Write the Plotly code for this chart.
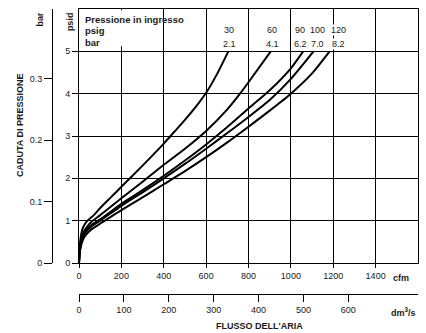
import plotly.graph_objects as go

PSI_TO_BAR = 0.0689476
CFM_PER_DM3S = 2.11888

# inlet pressure of each curve
inlet_psig = ["30", "60", "90", "100", "120"]
inlet_bar = ["2.1", "4.1", "6.2", "7.0", "8.2"]

# air flow (cfm) / pressure drop (psid)
flow_30 = [0, 3, 8, 15, 25, 40, 70, 100, 150, 200, 300, 400, 450, 500, 550, 600, 650, 705]
drop_30 = [0, 0.35, 0.6, 0.78, 0.9, 1.0, 1.13, 1.3, 1.55, 1.8, 2.3, 2.82, 3.1, 3.38, 3.68, 4.02, 4.45, 5.0]

flow_60 = [0, 3, 8, 15, 30, 60, 100, 200, 300, 400, 500, 600, 700, 760, 800, 905]
drop_60 = [0, 0.3, 0.5, 0.65, 0.8, 0.98, 1.13, 1.53, 1.92, 2.32, 2.7, 3.12, 3.63, 4.0, 4.27, 5.0]

flow_90 = [0, 3, 8, 15, 30, 60, 100, 200, 300, 400, 500, 600, 700, 800, 900, 1000, 1058]
drop_90 = [0, 0.28, 0.45, 0.6, 0.75, 0.9, 1.03, 1.4, 1.72, 2.06, 2.42, 2.8, 3.21, 3.65, 4.08, 4.6, 5.0]

flow_100 = [0, 3, 8, 15, 30, 60, 100, 200, 300, 400, 500, 600, 700, 800, 900, 1000, 1107]
drop_100 = [0, 0.26, 0.42, 0.57, 0.72, 0.87, 1.0, 1.35, 1.67, 2.0, 2.34, 2.7, 3.07, 3.45, 3.85, 4.35, 5.0]

flow_120 = [0, 3, 8, 15, 30, 60, 100, 200, 300, 400, 500, 600, 700, 800, 900, 1000, 1100, 1183]
drop_120 = [0, 0.22, 0.37, 0.5, 0.65, 0.8, 0.93, 1.25, 1.55, 1.86, 2.17, 2.5, 2.85, 3.22, 3.6, 4.0, 4.48, 5.0]

flows = [flow_30, flow_60, flow_90, flow_100, flow_120]
drops = [drop_30, drop_60, drop_90, drop_100, drop_120]

psid_ticks = [0, 1, 2, 3, 4, 5]
bar_ticks = [0, 0.1, 0.2, 0.3]
cfm_ticks = [0, 200, 400, 600, 800, 1000, 1200, 1400]
dm3s_ticks = [0, 100, 200, 300, 400, 500, 600]

CFM_MAX = 1600
PSID_MAX = 6
FONT = "Liberation Sans, Arial, sans-serif"
INK = "#1a1a1a"

fig = go.Figure()
for f, d in zip(flows, drops):
    fig.add_trace(go.Scatter(
        x=f, y=d, mode="lines", line=dict(color="black", width=2, shape="spline", smoothing=0.6),
        showlegend=False, hoverinfo="skip",
    ))
# empty trace so the bar / dm3/s axes get drawn
fig.add_trace(go.Scatter(x=[], y=[], xaxis="x2", yaxis="y2", showlegend=False))

axis_font = dict(family=FONT, size=9, color=INK)
fig.update_layout(
    width=426, height=333,
    margin=dict(l=40, r=8, t=9, b=39),
    paper_bgcolor="white", plot_bgcolor="white",
    font=dict(family=FONT, size=9, color=INK),
    xaxis=dict(
        domain=[39 / 378, 1], range=[0, CFM_MAX], tickvals=cfm_ticks,
        showgrid=True, gridcolor="black", gridwidth=1,
        showline=True, linecolor="black", linewidth=1, mirror=True,
        ticks="outside", ticklen=4, tickcolor="black", tickfont=axis_font,
        zeroline=False, automargin=False,
    ),
    yaxis=dict(
        domain=[31 / 285, 1], range=[0, PSID_MAX], tickvals=psid_ticks,
        showgrid=True, gridcolor="black", gridwidth=1,
        showline=True, linecolor="black", linewidth=1, mirror=True,
        ticks="outside", ticklen=6, tickcolor="black", tickfont=axis_font,
        zeroline=False, automargin=False,
    ),
    xaxis2=dict(
        overlaying="x", anchor="free", position=0, side="bottom",
        range=[0, CFM_MAX / CFM_PER_DM3S], tickvals=dm3s_ticks,
        showgrid=False, zeroline=False, showline=True, linecolor="black", linewidth=1,
        ticks="outside", ticklen=7, tickcolor="black", tickfont=axis_font,
        automargin=False,
    ),
    yaxis2=dict(
        overlaying="y", anchor="free", position=12 / 378, side="left",
        range=[0, PSID_MAX * PSI_TO_BAR], tickvals=bar_ticks,
        ticktext=["0", "0.1", "0.2", "0.3"],
        showgrid=False, zeroline=False, showline=True, linecolor="black", linewidth=1,
        ticks="outside", ticklen=8, tickcolor="black", tickfont=axis_font,
        automargin=False,
    ),
)

# white box behind the header
fig.add_shape(type="rect", xref="x", yref="y", x0=4, x1=335, y0=5.12, y1=5.97,
              fillcolor="white", line=dict(width=0), layer="above")

notes = [
    ("<b>Pressione in ingresso</b>", 20, 5.76),
    ("<b>psig</b>", 20, 5.5),
    ("<b>bar</b>", 20, 5.2),
]
for text, x, y in notes:
    fig.add_annotation(text=text, x=x, y=y, xref="x", yref="y", xanchor="left", yanchor="middle",
                       showarrow=False, font=dict(size=9.5, family=FONT, color=INK))

label_x = [709, 912, 1044, 1124, 1223]
for lx, psig, bar in zip(label_x, inlet_psig, inlet_bar):
    fig.add_annotation(text=psig, x=lx, y=5.5, xref="x", yref="y", showarrow=False,
                       xanchor="center", yanchor="middle",
                       bgcolor="white", borderpad=0, font=dict(size=9, family=FONT, color=INK))
    fig.add_annotation(text=bar, x=lx, y=5.17, xref="x", yref="y", showarrow=False,
                       xanchor="center", yanchor="middle",
                       bgcolor="white", borderpad=0, font=dict(size=9, family=FONT, color=INK))

outside = [
    ("<b>cfm</b>", 0.955, 0.0561, 0),
    ("<b>dm<sup>3</sup>/s</b>", 0.9629, -0.0632, 0),
    ("<b>FLUSSO DELL'ARIA</b>", 0.5794, -0.1123, 0),
    ("<b>CADUTA DI PRESSIONE</b>", -0.0529, 0.593, -90),
    ("<b>bar</b>", 0.0, 0.963, -90),
    ("<b>psid</b>", 0.0794, 0.954, -90),
]
for text, x, y, angle in outside:
    fig.add_annotation(text=text, x=x, y=y, xref="paper", yref="paper", textangle=angle,
                       xanchor="center", yanchor="middle",
                       showarrow=False, font=dict(size=9, family=FONT, color=INK))

# drop the page's default 8px body margin so the figure fills the window exactly
fig.write_html(
    "out.html",
    config={"displayModeBar": False},
    post_script="document.body.style.margin='0';document.body.style.overflow='hidden';",
)
